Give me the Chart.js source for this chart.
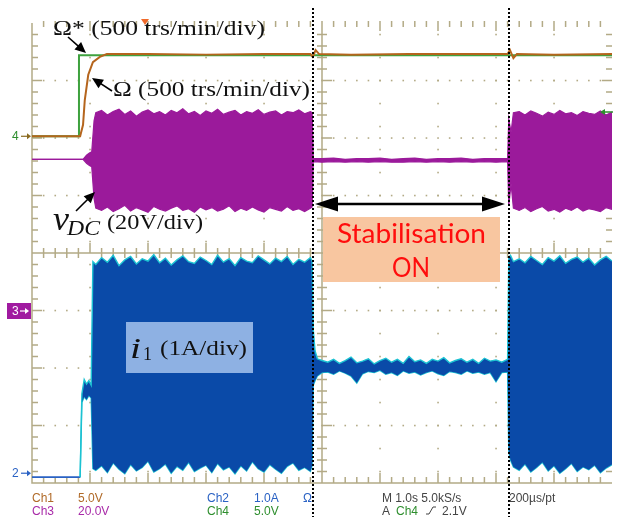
<!DOCTYPE html>
<html><head><meta charset="utf-8">
<script src="https://cdn.jsdelivr.net/npm/chart.js@4.4.1/dist/chart.umd.min.js"></script>
<style>html,body{margin:0;padding:0;background:#fff;}canvas{display:block;}</style>
</head><body>
<canvas id="c" width="620" height="517"></canvas>
<script>
// ---- data (time in s, 1 s/div ; values in screen divisions 0..8) ----
const ch1Time  = [0, 0.83, 0.88, 0.91, 0.97, 1.05, 1.17, 1.29, 2.0, 3.0, 4.0, 4.80, 4.84, 4.89, 4.95, 5.5, 6.5, 7.5, 8.20, 8.24, 8.30, 8.36, 9.0, 10];
const ch1Value = [6.03, 6.03, 6.23, 6.66, 7.10, 7.32, 7.41, 7.46, 7.46, 7.45, 7.46, 7.46, 7.41, 7.53, 7.46, 7.45, 7.46, 7.46, 7.46, 7.53, 7.39, 7.46, 7.45, 7.46];

const ch4Time  = [0, 0.81, 0.81, 10];
const ch4Value = [6.03, 6.03, 7.44, 7.44];

const vdcTime = [0,0.88,0.94,0.99,1.03,1.07,
  1.10,1.2,1.3,1.4,1.5,1.6,1.7,1.8,1.9,2.0,2.1,2.2,2.3,2.4,2.5,2.6,2.7,2.8,2.9,3.0,3.1,3.2,3.3,3.4,3.5,3.6,3.7,3.8,3.9,4.0,4.1,4.2,4.3,4.4,4.5,4.6,4.7,4.8,4.83,
  4.85,5.0,5.2,5.4,5.6,5.8,6.0,6.2,6.4,6.6,6.8,7.0,7.2,7.4,7.6,7.8,8.0,8.2,
  8.22,8.26,8.3,8.4,8.5,8.6,8.7,8.8,8.9,9.0,9.1,9.2,9.3,9.4,9.5,9.6,9.7,9.8,9.9,10.0];
const vdcTop = [5.63,5.63,5.70,5.74,5.76,6.30,
  6.44,6.48,6.40,6.46,6.50,6.41,6.47,6.38,6.45,6.49,6.42,6.46,6.40,6.48,6.44,6.51,6.42,6.46,6.39,6.47,6.43,6.50,6.41,6.45,6.48,6.40,6.46,6.43,6.49,6.41,6.45,6.47,6.40,6.46,6.44,6.49,6.42,6.46,6.44,
  5.64,5.64,5.65,5.63,5.64,5.64,5.65,5.63,5.64,5.65,5.63,5.64,5.64,5.65,5.63,5.64,5.64,5.64,
  6.33,6.10,6.44,6.46,6.40,6.47,6.43,6.38,6.45,6.41,6.48,6.42,6.44,6.39,6.46,6.43,6.41,6.47,6.40,6.45];
const vdcBottom = [5.63,5.63,5.56,5.52,5.50,4.95,
  4.78,4.74,4.80,4.72,4.77,4.83,4.73,4.79,4.75,4.71,4.81,4.76,4.73,4.78,4.82,4.74,4.77,4.71,4.80,4.75,4.79,4.73,4.76,4.82,4.72,4.78,4.74,4.80,4.75,4.71,4.79,4.76,4.73,4.81,4.74,4.77,4.72,4.78,4.80,
  5.59,5.58,5.59,5.58,5.59,5.58,5.59,5.58,5.58,5.59,5.58,5.59,5.58,5.59,5.58,5.59,5.58,5.59,
  4.82,5.20,4.78,4.74,4.79,4.72,4.77,4.81,4.73,4.76,4.71,4.78,4.74,4.80,4.73,4.77,4.75,4.72,4.79,4.76];

const i1Time = [0,0.83,0.86,0.90,0.94,0.98,1.02,1.05,
  1.10,1.2,1.3,1.4,1.5,1.6,1.7,1.8,1.9,2.0,2.1,2.2,2.3,2.4,2.5,2.6,2.7,2.8,2.9,3.0,3.1,3.2,3.3,3.4,3.5,3.6,3.7,3.8,3.9,4.0,4.1,4.2,4.3,4.4,4.5,4.6,4.7,4.8,4.83,
  4.85,4.88,4.92,5.0,5.1,5.2,5.3,5.4,5.5,5.6,5.7,5.8,5.9,6.0,6.1,6.2,6.3,6.4,6.5,6.6,6.7,6.8,6.9,7.0,7.1,7.2,7.3,7.4,7.5,7.6,7.7,7.8,7.9,8.0,8.1,8.2,
  8.22,8.25,8.3,8.4,8.5,8.6,8.7,8.8,8.9,9.0,9.1,9.2,9.3,9.4,9.5,9.6,9.7,9.8,9.9,10.0];
const i1Top = [0.10,0.10,1.55,1.80,1.72,1.78,1.70,3.85,
  3.80,3.92,3.84,3.96,3.78,3.88,3.94,3.81,3.90,3.86,3.97,3.83,3.91,3.79,3.88,3.95,3.85,3.82,3.93,3.87,3.80,3.96,3.84,3.90,3.78,3.92,3.86,3.83,3.95,3.88,3.81,3.91,3.85,3.94,3.80,3.89,3.84,3.92,3.86,
  2.66,2.30,2.16,2.13,2.10,2.15,2.08,2.13,2.19,2.09,2.12,2.16,2.07,2.13,2.17,2.10,2.15,2.08,2.20,2.11,2.14,2.08,2.15,2.12,2.18,2.09,2.13,2.16,2.10,2.15,2.08,2.17,2.12,2.14,2.10,2.15,
  3.92,3.96,3.85,3.90,3.83,3.94,3.87,3.80,3.92,3.86,3.95,3.82,3.89,3.93,3.84,3.91,3.79,3.88,3.94,3.86];
const i1Bottom = [0.10,0.10,1.40,1.50,1.45,1.52,1.48,0.25,
  0.22,0.30,0.18,0.35,0.24,0.16,0.32,0.21,0.27,0.38,0.19,0.25,0.33,0.17,0.29,0.22,0.36,0.20,0.26,0.31,0.18,0.34,0.23,0.28,0.16,0.30,0.21,0.37,0.25,0.19,0.32,0.24,0.17,0.29,0.35,0.22,0.27,0.20,0.30,
  1.70,1.78,1.86,1.92,1.93,1.89,1.95,1.91,1.86,1.74,1.90,1.94,1.92,1.96,1.89,1.92,1.87,1.95,1.91,1.93,1.88,1.92,1.95,1.90,1.87,1.94,1.92,1.89,1.95,1.91,1.93,1.89,1.92,1.76,1.92,1.93,
  0.55,0.40,0.28,0.22,0.33,0.19,0.27,0.36,0.21,0.30,0.17,0.25,0.34,0.20,0.28,0.23,0.31,0.18,0.26,0.32];

const eventTimes = [4.845, 8.224];   // stabilisation on / off
const xDivisions = [0,1,2,3,4,5,6,7,8,9,10];
const yDivisions = [0,1,2,3,4,5,6,7,8];

const readoutRow1 = [['Ch1','ch1'],['5.0V','ch1'],['Ch2','ch2'],['1.0A','ch2'],['Ω','ch2'],['M 1.0s 5.0kS/s','txt'],['200µs/pt','txt']];
const readoutRow2 = [['Ch3','ch3'],['20.0V','ch3'],['Ch4','ch4'],['5.0V','ch4'],['A','txt'],['Ch4','ch4'],['2.1V','txt']];

// ---- styling ----
const COL = {ch1:'#b06a28', ch2:'#2a62c4', ch3:'#a82aa8', ch4:'#2e8e2e', txt:'#444'};
const GRID = '#b3aa86';

function pts(xs, ys){ return xs.map((x,i)=>({x:x, y:ys[i]})); }

function arrow(ctx,x1,y1,x2,y2,len,half,lw){
  const a=Math.atan2(y2-y1,x2-x1), c=Math.cos(a), s=Math.sin(a);
  ctx.lineWidth=lw; ctx.beginPath(); ctx.moveTo(x1,y1); ctx.lineTo(x2-c*len*0.7,y2-s*len*0.7); ctx.stroke();
  ctx.beginPath(); ctx.moveTo(x2,y2);
  ctx.lineTo(x2-c*len-s*half, y2-s*len+c*half);
  ctx.lineTo(x2-c*len+s*half, y2-s*len-c*half);
  ctx.closePath(); ctx.fill();
}
function fitText(ctx,txt,x,y,w,font,color){
  ctx.save(); ctx.font=font; ctx.fillStyle=color; ctx.textBaseline='alphabetic'; ctx.textAlign='left';
  const m=ctx.measureText(txt).width; ctx.translate(x,y); ctx.scale(w/m,1); ctx.fillText(txt,0,0); ctx.restore();
}

const graticule = {
  id:'graticule',
  beforeDatasetsDraw(chart){
    const {ctx, scales:{x,y}} = chart;
    const X=v=>x.getPixelForValue(v), Y=v=>y.getPixelForValue(v);
    ctx.save();
    ctx.fillStyle=GRID;
    yDivisions.forEach(d=>{ if(d===0||d===8||d===4) return;
      for(let k=1;k<50;k++){ ctx.fillRect(X(k*0.2)-0.75, Y(d)-0.75, 1.6, 1.6); } });
    xDivisions.forEach(d=>{ if(d===0||d===10||d===5) return;
      for(let k=0;k<20;k++){ ctx.fillRect(X(d)-0.75, Y(0.2+k*0.4)-0.75, 1.6, 1.6); } });
    ctx.strokeStyle=GRID; ctx.lineWidth=1.5;
    ctx.beginPath();
    ctx.moveTo(X(0),Y(8)); ctx.lineTo(X(0),Y(0)); ctx.lineTo(X(10),Y(0));
    ctx.moveTo(X(5),Y(8)); ctx.lineTo(X(5),Y(0));
    ctx.moveTo(X(0),Y(4)); ctx.lineTo(X(10),Y(4));
    for(let k=1;k<50;k++){
      const px=X(k*0.2), major=(k%5===0);
      const L=major?10:5;
      ctx.moveTo(px,Y(4)-L); ctx.lineTo(px,Y(4)+(major?0:5));
      ctx.moveTo(px,Y(0)); ctx.lineTo(px,Y(0)-(major?10:6));
      ctx.moveTo(px,Y(8)-2); ctx.lineTo(px,Y(8)+(major?8:4));
    }
    for(let k=1;k<40;k++){
      const py=Y(k*0.2), major=(k%5===0);
      ctx.moveTo(X(5)-(major?0:5),py); ctx.lineTo(X(5)+(major?10:5),py);
      ctx.moveTo(X(0),py); ctx.lineTo(X(0)+(major?10:6),py);
      ctx.moveTo(X(10),py); ctx.lineTo(X(10)-(major?10:6),py);
    }
    ctx.stroke();
    ctx.restore();
  }
};

const overlay = {
  id:'overlay',
  afterDraw(chart){
    const {ctx, scales:{x,y}} = chart;
    const X=v=>x.getPixelForValue(v), Y=v=>y.getPixelForValue(v);
    ctx.save();
    ctx.strokeStyle='#000'; ctx.lineWidth=2; ctx.setLineDash([2,2]);
    eventTimes.forEach(t=>{ const px=Math.round(X(t)); ctx.beginPath(); ctx.moveTo(px,8); ctx.lineTo(px,517); ctx.stroke(); });
    ctx.setLineDash([]);
    ctx.fillStyle='#000'; ctx.strokeStyle='#000';
    const ax0=X(eventTimes[0])+2, ax1=X(eventTimes[1])-4, ay=204;
    arrow(ctx, (ax0+ax1)/2, ay, ax0, ay, 23, 7.5, 2.5);
    arrow(ctx, (ax0+ax1)/2, ay, ax1, ay, 23, 7.5, 2.5);
    ctx.fillStyle='#f8c6a0'; ctx.fillRect(323,217,177,65);
    fitText(ctx,'Stabilisation',337,243,149,"27px Lato",'#ff0d0d');
    fitText(ctx,'ON',392,277,38,"27px Lato",'#ff0d0d');
    ctx.fillStyle='#8eb1e3'; ctx.fillRect(126,322,127,51);
    fitText(ctx,'i',130,358,11,"italic 30px 'Liberation Serif'",'#111');
    fitText(ctx,'1',143,360,9,"19px 'Liberation Serif'",'#111');
    fitText(ctx,'(1A/div)',160,355,87,"21px 'Liberation Serif'",'#111');
    fitText(ctx,'Ω* (500 trs/min/div)',53,35,212,"20px 'Liberation Serif'",'#111');
    fitText(ctx,'Ω (500 trs/min/div)',113,96,197,"20px 'Liberation Serif'",'#111');
    fitText(ctx,'v',53,230,16,"italic 33px 'Liberation Serif'",'#111');
    fitText(ctx,'DC',67,235,33,"italic 21px 'Liberation Serif'",'#111');
    fitText(ctx,'(20V/div)',107,229,96,"20px 'Liberation Serif'",'#111');
    ctx.fillStyle='#000'; ctx.strokeStyle='#000';
    arrow(ctx,68,37,86,53,11,5,1.6);
    arrow(ctx,112,91,92,78,11,5,1.6);
    arrow(ctx,76,211,95,192,11,5,1.6);
    ctx.font="12px 'Liberation Sans'"; ctx.textBaseline='middle';
    ctx.fillStyle=COL.ch4; ctx.fillText('4',12,Y(6.03));
    ctx.strokeStyle='#8a6a20'; ctx.fillStyle='#8a6a20';
    arrow(ctx,21,Y(6.03),31,Y(6.03),4,3,1.2);
    ctx.fillStyle='#a01aa0'; ctx.fillRect(7,303,24,16);
    ctx.fillStyle='#fff'; ctx.fillText('3',12,311.5);
    ctx.strokeStyle='#fff'; arrow(ctx,20,311,29,311,4,3,1.2);
    ctx.fillStyle=COL.ch2; ctx.fillText('2',12,Y(0.17));
    ctx.strokeStyle=COL.ch2; arrow(ctx,21,Y(0.17),31,Y(0.17),4,3,1.2);
    ctx.fillStyle='#f06a2a'; ctx.beginPath(); ctx.moveTo(141,19); ctx.lineTo(149,19); ctx.lineTo(145,25); ctx.closePath(); ctx.fill();
    ctx.strokeStyle='#2e8e2e'; ctx.fillStyle='#2e8e2e'; arrow(ctx,613,112,600,112,5,3,1.5);
    ctx.font="12px 'Liberation Sans'"; ctx.textBaseline='alphabetic';
    const r1x=[32,78,207,254,303,382,509], r2x=[32,78,207,254,382,396,442];
    readoutRow1.forEach((r,i)=>{ ctx.fillStyle=COL[r[1]]; ctx.fillText(r[0],r1x[i],502); });
    readoutRow2.forEach((r,i)=>{ ctx.fillStyle=COL[r[1]]; ctx.fillText(r[0],r2x[i],515); });
    ctx.strokeStyle='#444'; ctx.lineWidth=1; ctx.beginPath();
    ctx.moveTo(426,514); ctx.lineTo(429,514); ctx.lineTo(433,507); ctx.lineTo(436,507); ctx.stroke();
    ctx.restore();
  }
};

const i1Edge = c => (c.p1.parsed.x <= 0.84 ? '#2a62c4' : '#1cc2d2');

new Chart(document.getElementById('c').getContext('2d'), {
  type:'line',
  data:{datasets:[
    {label:'Ω', data:pts(ch1Time,ch1Value), borderColor:'#b5651d', borderWidth:2, pointRadius:0, fill:false},
    {label:'Ω*', data:pts(ch4Time,ch4Value), borderColor:'#3fa23f', borderWidth:2, pointRadius:0, fill:false},
    {label:'vDC max', data:pts(vdcTime,vdcTop), borderColor:'#9b1a9b', backgroundColor:'#9b1a9b', borderWidth:1.2, pointRadius:0, fill:'+1'},
    {label:'vDC min', data:pts(vdcTime,vdcBottom), borderColor:'#9b1a9b', borderWidth:1.2, pointRadius:0, fill:false},
    {label:'i1 max', data:pts(i1Time,i1Top), borderColor:'#1cc2d2', backgroundColor:'#0a4aa8', borderWidth:1.4, pointRadius:0, fill:'+1', segment:{borderColor:i1Edge}},
    {label:'i1 min', data:pts(i1Time,i1Bottom), borderColor:'#1cc2d2', borderWidth:1.4, pointRadius:0, fill:false, segment:{borderColor:i1Edge}}
  ]},
  options:{
    responsive:false, animation:false, devicePixelRatio:1,
    layout:{padding:{left:32, top:23, right:8, bottom:34}},
    elements:{line:{tension:0}},
    scales:{
      x:{type:'linear', min:0, max:10, display:false},
      y:{type:'linear', min:0, max:8, display:false}
    },
    plugins:{legend:{display:false}, tooltip:{enabled:false}, title:{display:false}}
  },
  plugins:[graticule, overlay]
});
</script>
</body></html>
